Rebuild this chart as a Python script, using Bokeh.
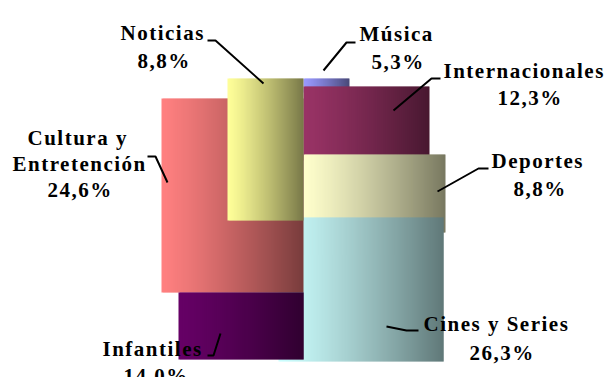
import numpy as np
from bokeh.plotting import figure
from bokeh.models import Range1d, ColumnDataSource, InlineStyleSheet
from bokeh.core.properties import value
from bokeh.embed import file_html
from bokeh.resources import INLINE

# ---------------- data ----------------
categories = ["Noticias", "Música", "Internacionales", "Deportes",
              "Cines y Series", "Infantiles", "Cultura y Entretención"]
shares = [8.8, 5.3, 12.3, 8.8, 26.3, 14.0, 24.6]
label_lines = [["Noticias"], ["Música"], ["Internacionales"], ["Deportes"],
               ["Cines y Series"], ["Infantiles"], ["Cultura y", "Entretención"]]

# ---------------- styles / layout (pixel units, y from top) ----------------
base_colors = ["#FFFF99", "#9999FF", "#993366", "#FFFFCC", "#CCFFFF", "#660066", "#FF8080"]
block_left = [227, 303, 303, 303, 278, 178, 161]
block_right = [303, 349, 429, 445, 443, 303, 303]
block_top = [78, 78, 86, 154, 217, 292, 98]
block_bottom = [220, 92, 160, 232, 361, 359, 292]
draw_order = [1, 2, 3, 4, 6, 0, 5]

label_x = [[120, 137], [359, 371], [443, 497], [491, 513], [423, 469], [102, 123], [27, 12, 47]]
label_y = [[32, 60], [33, 61], [70, 97], [160, 188], [323, 352], [348, 375], [137, 163, 189]]
leader_x = [[207, 215, 263], [355, 346, 323], [440, 431, 393], [488, 478, 437],
            [386, 406, 418], [207, 213, 220], [147, 155, 167]]
leader_y = [[40, 40, 83], [42, 42, 70], [78, 78, 110], [168, 168, 191],
            [326, 330, 330], [355, 355, 333], [156, 156, 182]]

W, H = 607, 377


def shade(hex_color, f):
    r, g, b = (int(hex_color[k:k + 2], 16) for k in (1, 3, 5))
    return "#%02x%02x%02x" % (round(r * f), round(g * f), round(b * f))


p = figure(width=W, height=H, output_backend="svg", toolbar_location=None,
           x_range=Range1d(0, W), y_range=Range1d(H, 0),
           x_axis_type=None, y_axis_type=None, min_border=0,
           background_fill_color="white", border_fill_color="white")
p.outline_line_color = None
p.grid.visible = False
p.stylesheets = [InlineStyleSheet(css=":host { letter-spacing: 1.5px; }")]

# gradient-shaded blocks made of thin overlapping vertical strips
sl, sr, st, sb, sc = [], [], [], [], []
for i in draw_order:
    L, R, T, B = block_left[i], block_right[i], block_top[i], block_bottom[i]
    wdt = R - L
    for x0 in range(L, R, 2):
        x1 = min(x0 + 3, R)
        t = (x0 + 1 - L) / wdt
        f = 1 - 0.53 * t ** 1.2
        sl.append(x0); sr.append(x1); st.append(T); sb.append(B)
        sc.append(shade(base_colors[i], f))
p.quad(left="l", right="r", top="t", bottom="b", fill_color="c", line_color=None,
       source=ColumnDataSource(dict(l=sl, r=sr, t=st, b=sb, c=sc)))

# leader lines
p.multi_line(xs=leader_x, ys=leader_y, line_color="black", line_width=2)

# labels
tx, ty, tt = [], [], []
for i, cat in enumerate(categories):
    lines = label_lines[i] + [f"{shares[i]:.1f}".replace(".", ",") + "%"]
    for j, line in enumerate(lines):
        tx.append(label_x[i][j]); ty.append(label_y[i][j]); tt.append(line)
p.text(x="x", y="y", text="t", source=ColumnDataSource(dict(x=tx, y=ty, t=tt)),
       text_font=value("Liberation Serif"), text_font_style="bold",
       text_font_size="21px", text_align="left", text_baseline="alphabetic",
       text_color="black")

open("out.html", "w").write(file_html(p, INLINE))
